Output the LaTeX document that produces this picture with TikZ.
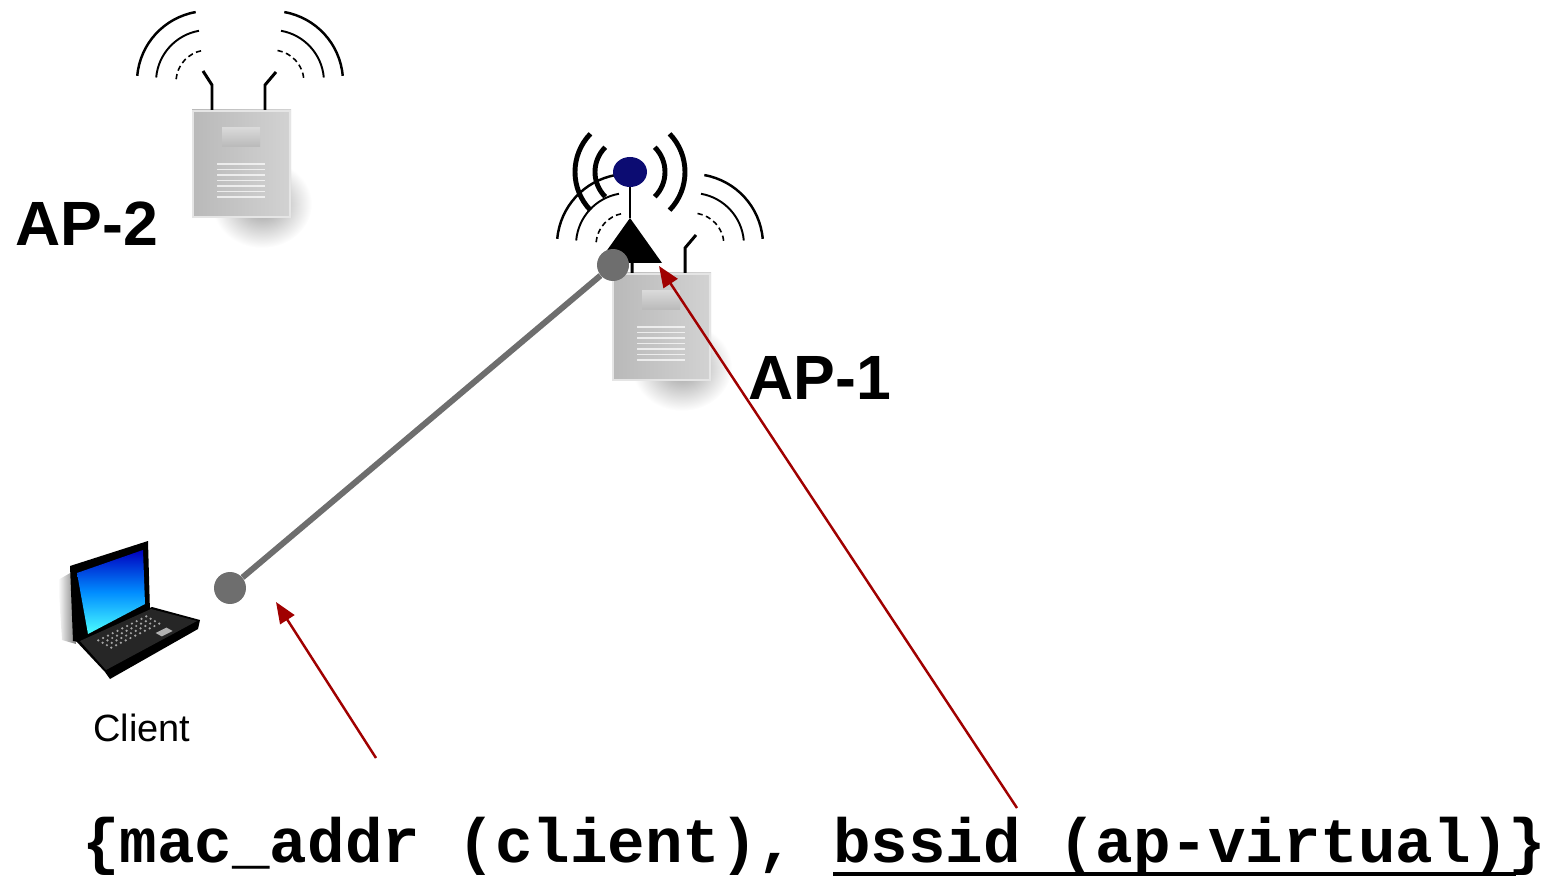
\documentclass[tikz,border=0pt]{standalone}
\usepackage{fontspec}
\setmainfont{Liberation Sans}
\newfontfamily\codefont{Liberation Mono}
\usetikzlibrary{arrows.meta}

\definecolor{linkgrau}{HTML}{6E6E6E}
\definecolor{pfeilrot}{HTML}{A00000}
\definecolor{antblau}{HTML}{0C0C72}

% fette Unterstreichung
\newcommand\fettunter[1]{\setbox0\hbox{#1}\rlap{\rule[-0.22em]{\dimexpr\wd0+0.12em\relax}{0.065em}}\box0}

\begin{document}
\begin{tikzpicture}[
  x=0.02cm, y=-0.02cm, % 1 Einheit = 1 Pixel, y nach unten
  aplabel/.style={font=\fontsize{35.6}{40}\selectfont\bfseries, inner sep=0, anchor=base west},
  punkt/.style={circle, fill=linkgrau, inner sep=0, minimum size=0.64cm},
  verbindung/.style={linkgrau, line width=3.4pt},
  pfeil/.style={pfeilrot, line width=1.4pt, -{Triangle[length=12pt,width=9.5pt]}},
  pics/ap/.style={code={
    % Schatten
    \shade[inner color=black!40, outer color=white] (70,94) ellipse[x radius=50, y radius=44];
    % Gehaeuse
    \shade[left color=gray!55, right color=gray!35] (0,0) rectangle (99,108);
    \draw[gray!20, line width=1.2pt] (1,1) rectangle (98,107);
    \shade[top color=gray!30, bottom color=gray!55] (30,18) rectangle (68,37);
    \foreach \y in {54,59.5,...,90} \draw[white, opacity=.7, line width=0.9pt] (25,\y) -- (73,\y);
    % Antennen
    \draw[line width=1.7pt] (20,0) -- (20,-25) -- (11,-39) (73,0) -- (73,-25) -- (84,-38);
    % Funkwellen
    \draw[line width=1.4pt]
      (16,-28) ++(185:71) arc[start angle=185, end angle=260, radius=71]
      (80,-28) ++(280:71) arc[start angle=280, end angle=355, radius=71];
    \draw[line width=1.1pt]
      (16,-28) ++(185:52) arc[start angle=185, end angle=260, radius=52]
      (80,-28) ++(280:52) arc[start angle=280, end angle=355, radius=52];
    \draw[line width=0.9pt, densely dashed]
      (16,-28) ++(185:32) arc[start angle=185, end angle=260, radius=32]
      (80,-28) ++(280:32) arc[start angle=280, end angle=355, radius=32];
  }},
  pics/funk/.style={code={
    \fill (0,46) -- (32,91) -- (-32,91) -- cycle;
    \draw[line width=0.8pt] (0,15) -- (0,46);
    \fill[antblau] (0,0) ellipse[x radius=17, y radius=15];
    \draw[line width=2.8pt]
      (0,0) ++(136:55) arc[start angle=136, end angle=224, radius=55]
      (0,0) ++(135:35) arc[start angle=135, end angle=225, radius=35]
      (0,0) ++(-44:55) arc[start angle=-44, end angle=44, radius=55]
      (0,0) ++(-45:35) arc[start angle=-45, end angle=45, radius=35];
  }}
  ]
\useasboundingbox (0,0) rectangle (1559,878);

% Access Points
\pic at (192,110) {ap};
\pic at (612,273) {ap};
\pic at (630,172) {funk};
\node[aplabel] (ap2) at (15,246) {AP-2};
\node[aplabel] (ap1) at (748,400) {AP-1};

% Laptop
\shade[left color=white, right color=black!50] (58,580) -- (72,572) -- (76,644) -- (62,640) -- cycle;
\fill[black] (70,566) -- (148,541) -- (150,612) -- (88,643) -- (73,641) -- cycle;
\shade[top color=blue!75!black, bottom color=cyan!70, middle color=blue!45!cyan]
  (77,573) -- (143,550) -- (145,604) -- (88,634) -- cycle;
\fill[black] (76,641) -- (152,607) -- (200,620) -- (198,629) -- (110,679) -- (105,672) -- cycle;
\fill[black!85] (80,641) -- (151,609) -- (197,621) -- (106,670) -- cycle;
\foreach \s in {0.1,0.18,...,0.95}
  \foreach \t in {0.12,0.24,...,0.6}
    \fill[gray!70] ({88+60*\s+36*\t},{641-30*\s+20*\t}) circle[radius=0.7pt];
\fill[gray!60] (155.7,633) -- (166.5,627.6) -- (172.6,631) -- (161.8,636.4) -- cycle;
\node[font=\fontsize{21.6}{24}\selectfont, inner sep=0, anchor=base west] (client) at (93,741) {Client};

% Verbindung Client -- AP
\node[punkt] (cdot) at (230,588) {};
\node[punkt] (adot) at (613,265) {};
\draw[verbindung] (cdot) -- (adot);

% Tupel und Pfeile
\node[font={\codefont\bfseries\fontsize{35.6}{40}\selectfont}, inner sep=0, anchor=base west] (tupel) at (82,862)
  {\{mac\_addr (client), \fettunter{bssid (ap-virtual)}\}};
\coordinate (m1) at (376,758);
\coordinate (c1) at (276,602);
\coordinate (m2) at (1017,808);
\coordinate (a1) at (659,266);
\draw[pfeil] (m1) -- (c1);
\draw[pfeil] (m2) -- (a1);
\end{tikzpicture}
\end{document}
